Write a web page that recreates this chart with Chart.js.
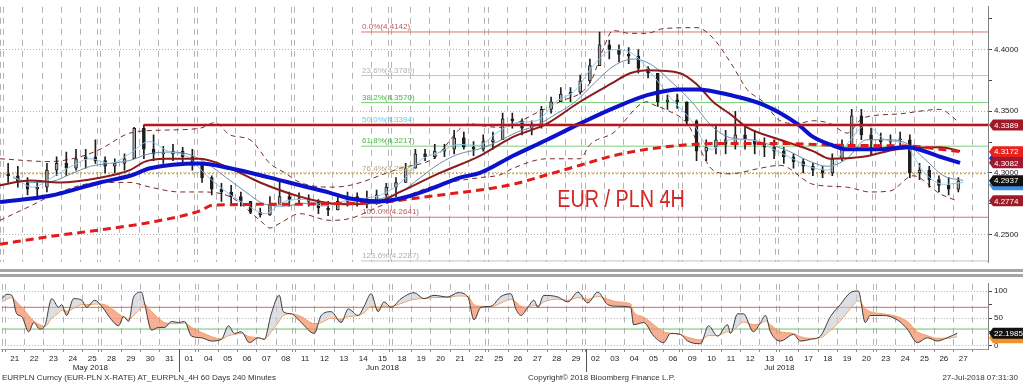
<!DOCTYPE html>
<html>
<head>
<meta charset="utf-8">
<title>EUR / PLN 4H</title>
<script src="https://cdn.jsdelivr.net/npm/chart.js@4.4.1/dist/chart.umd.min.js"></script>
<style>
  body { margin:0; background:#fff; font-family:"Liberation Sans", Arial, sans-serif; }
  #wrap { position:relative; width:1023px; height:384px; overflow:hidden; background:#fff; }
  #priceChart { position:absolute; left:0; top:0; }
  #rsiChart { position:absolute; left:0; top:277px; }
  .band { position:absolute; left:0; width:1023px; height:3px; background:#a4a4a4; }
  .foot { position:absolute; top:373px; font-size:8px; line-height:10px; color:#333; white-space:nowrap; }
</style>
</head>
<body>
<div id="wrap">
  <canvas id="priceChart" width="1023" height="269"></canvas>
  <div class="band" style="top:269px"></div>
  <div class="band" style="top:274px"></div>
  <canvas id="rsiChart" width="1023" height="97"></canvas>
  <div class="foot" style="left:2px">EURPLN Curncy (EUR-PLN X-RATE) AT_EURPLN_4H 60 Days 240 Minutes</div>
  <div class="foot" style="left:528px">Copyright© 2018 Bloomberg Finance L.P.</div>
  <div class="foot" style="right:5px">27-Jul-2018 07:31:30</div>
</div>
<script>
// trading days shown on the axis (one label per day, 21 May .. 27 Jul 2018)
const dayLabels = ['21','22','23','24','25','28','29','30','31','01','04','05','06','07','08','11','12','13','14','15',
  '18','19','20','21','22','25','26','27','28','29','02','03','04','05','06','09','10','11','12','13',
  '16','17','18','19','20','23','24','25','26','27'];
const weekendAfter = [-1, 4, 9, 14, 19, 24, 29, 34, 39, 44];
const monthNames = ['May 2018', 'Jun 2018', 'Jul 2018'];
const monthMid = [3.9, 19, 39.5];
const monthBreaks = [8.5, 29.5];

const XMIN = -0.67, XMAX = 50.28;
const PRICE_MIN = 4.2277, PRICE_MAX = 4.4346;
const priceTicks = [4.25, 4.275, 4.3, 4.325, 4.35, 4.375, 4.4, 4.425];
const rsiTicks = [0, 25, 50, 75, 100];

// half-day price bars (two per trading day)
const barHigh = [4.3077,4.3054, 4.2962,4.2939, 4.3077,4.3131, 4.3169,4.3192, 4.3192,4.3269,
  4.3131,4.3115, 4.3154,4.3370, 4.3389,4.3308, 4.3216,4.3231, 4.3208,4.3192,
  4.3077,4.2977, 4.2916,4.2900, 4.2846,4.2770, 4.2716,4.2808, 4.2939,4.2846,
  4.2839,4.2823, 4.2785,4.2770, 4.2823,4.2846, 4.2839,4.2854, 4.2862,4.2916,
  4.2962,4.3077, 4.3192,4.3192, 4.3231,4.3231, 4.3346,4.3331, 4.3254,4.3308,
  4.3331,4.3485, 4.3485,4.3439, 4.3423,4.3539, 4.3615,4.3692, 4.3692,4.3792,
  4.3923,4.4142, 4.4077,4.4038, 4.4015,4.4000, 4.3862,4.3808, 4.3631,4.3639,
  4.3577,4.3430, 4.3269,4.3385, 4.3346,4.3500, 4.3385,4.3346, 4.3285,4.3269,
  4.3208,4.3154, 4.3115,4.3077, 4.3054,4.3154, 4.3269,4.3515, 4.3515,4.3362,
  4.3323,4.3308, 4.3331,4.3308, 4.3077,4.3054, 4.2977,4.2962, 4.2962];
const barLow = [4.2923,4.2885, 4.2823,4.2808, 4.2846,4.2977, 4.2977,4.3023, 4.3038,4.3077,
  4.3000,4.3000, 4.3023,4.3115, 4.3115,4.3100, 4.3077,4.3100, 4.3077,4.3023,
  4.2923,4.2823, 4.2770,4.2746, 4.2731,4.2670, 4.2641,4.2655, 4.2746,4.2731,
  4.2746,4.2731, 4.2670,4.2654, 4.2700,4.2731, 4.2731,4.2716, 4.2746,4.2793,
  4.2808,4.2923, 4.3038,4.3100, 4.3115,4.3131, 4.3154,4.3192, 4.3139,4.3177,
  4.3192,4.3269, 4.3362,4.3308, 4.3308,4.3362, 4.3485,4.3577, 4.3577,4.3639,
  4.3731,4.3869, 4.3923,4.3900, 4.3885,4.3808, 4.3769,4.3539, 4.3515,4.3523,
  4.3385,4.3100, 4.3100,4.3154, 4.3154,4.3192, 4.3192,4.3154, 4.3131,4.3115,
  4.3077,4.3038, 4.3000,4.2977, 4.2962,4.2977, 4.3100,4.3231, 4.3269,4.3139,
  4.3192,4.3192, 4.3208,4.2962, 4.2946,4.2885, 4.2846,4.2823, 4.2846];
const barClose = [4.2977,4.2923, 4.2869,4.2885, 4.3023,4.3077, 4.3038,4.3115, 4.3131,4.3100,
  4.3054,4.3077, 4.3115,4.3362, 4.3192,4.3154, 4.3154,4.3177, 4.3131,4.3077,
  4.2962,4.2869, 4.2846,4.2808, 4.2770,4.2680, 4.2660,4.2746, 4.2808,4.2785,
  4.2793,4.2770, 4.2716,4.2700, 4.2770,4.2808, 4.2793,4.2770, 4.2823,4.2885,
  4.2923,4.3038, 4.3154,4.3131, 4.3177,4.3192, 4.3285,4.3208, 4.3192,4.3254,
  4.3269,4.3439, 4.3423,4.3362, 4.3385,4.3515, 4.3577,4.3639, 4.3654,4.3746,
  4.3869,4.4038, 4.4000,4.3961, 4.3946,4.3846, 4.3808,4.3577, 4.3592,4.3577,
  4.3423,4.3177, 4.3208,4.3269, 4.3231,4.3308, 4.3269,4.3231, 4.3208,4.3177,
  4.3131,4.3092, 4.3054,4.3023, 4.3000,4.3115, 4.3231,4.3462, 4.3308,4.3269,
  4.3254,4.3269, 4.3269,4.3000, 4.3023,4.2946, 4.2900,4.2869, 4.2937];
const firstOpen = 4.2990;

// daily thin averages (one value per trading day)
const fastAvg = [4.2977,4.2885,4.2962,4.3054,4.3115,4.3077,4.3154,4.3254,4.3177,4.3131,
  4.2977,4.2846,4.2746,4.2670,4.2770,4.2785,4.2731,4.2770,4.2793,4.2823,
  4.2923,4.3100,4.3169,4.3231,4.3223,4.3331,4.3408,4.3423,4.3577,4.3669,
  4.3885,4.4000,4.3961,4.3792,4.3592,4.3423,4.3192,4.3269,4.3269,4.3208,
  4.3131,4.3054,4.3023,4.3231,4.3385,4.3269,4.3231,4.3000,4.2908,4.2923];
const slowAvg = [4.2962,4.2923,4.2931,4.2993,4.3054,4.3077,4.3100,4.3154,4.3169,4.3154,
  4.3077,4.2962,4.2846,4.2746,4.2731,4.2754,4.2754,4.2754,4.2770,4.2793,
  4.2846,4.2962,4.3077,4.3154,4.3192,4.3254,4.3331,4.3385,4.3477,4.3577,
  4.3731,4.3869,4.3923,4.3869,4.3731,4.3577,4.3385,4.3285,4.3269,4.3231,
  4.3177,4.3100,4.3054,4.3115,4.3269,4.3269,4.3246,4.3115,4.2977,4.2939];

// slower averages and bands as [day, price]
const maBlue = [[-0.67,4.2765],[1.91,4.2815],[4.49,4.2923],[6.03,4.2977],[7.07,4.3038],[9.64,4.3077],
  [11.19,4.3038],[13.25,4.2962],[14.80,4.2900],[16.35,4.2839],[17.38,4.2793],[18.93,4.2770],
  [19.96,4.2793],[21.51,4.2869],[23.05,4.2962],[24.08,4.3000],[25.79,4.3139],[27.54,4.3269],
  [29.24,4.3400],[30.94,4.3523],[32.70,4.3631],[34.40,4.3677],[35.28,4.3677],[36.98,4.3631],
  [38.68,4.3554],[40.43,4.3400],[41.26,4.3292],[42.14,4.3231],[43.01,4.3192],[44.71,4.3192],
  [46.11,4.3208],[47.81,4.3131],[48.84,4.3082]];
const maMaroon = [[-0.67,4.2900],[0.88,4.2939],[2.42,4.2923],[4.49,4.2962],[6.03,4.3023],[6.81,4.3092],
  [7.84,4.3115],[9.64,4.3115],[11.19,4.3038],[12.74,4.2923],[14.80,4.2808],[16.35,4.2754],
  [17.38,4.2746],[18.93,4.2770],[19.96,4.2846],[22.02,4.3000],[24.08,4.3139],[25.79,4.3292],
  [27.54,4.3400],[29.24,4.3577],[30.94,4.3731],[31.82,4.3808],[32.70,4.3831],[34.40,4.3808],
  [35.28,4.3715],[36.10,4.3577],[36.98,4.3477],[37.85,4.3369],[39.56,4.3269],[41.26,4.3177],
  [42.14,4.3115],[43.84,4.3131],[45.59,4.3192],[47.81,4.3208],[48.84,4.3177]];
const maRedDash = [[-0.67,4.2423],[1.91,4.2485],[4.49,4.2539],[7.07,4.2600],[9.64,4.2693],[10.31,4.2739],
  [13.77,4.2746],[17.38,4.2754],[18.93,4.2762],[20.99,4.2800],[22.54,4.2831],[24.08,4.2862],
  [25.79,4.2908],[27.54,4.2985],[29.24,4.3062],[30.94,4.3139],[32.70,4.3192],[34.40,4.3223],
  [36.10,4.3239],[39.56,4.3239],[43.01,4.3223],[46.42,4.3216],[47.81,4.3192],[48.84,4.3172]];
const bandUpper = [[-0.67,4.3115],[1.91,4.3092],[3.46,4.3131],[4.49,4.3192],[6.03,4.3323],[7.58,4.3346],
  [9.64,4.3362],[10.42,4.3408],[11.19,4.3308],[12.22,4.3269],[13.25,4.3077],[14.03,4.3000],
  [14.80,4.2923],[16.35,4.2885],[17.38,4.2900],[19.96,4.3038],[21.66,4.3115],[23.57,4.3400],
  [24.08,4.3385],[25.12,4.3369],[27.18,4.3500],[28.21,4.3577],[29.76,4.3731],[30.43,4.4000],
  [30.94,4.4154],[31.82,4.4131],[32.70,4.4131],[33.52,4.4169],[35.28,4.4177],[36.10,4.4092],
  [37.13,4.3862],[37.85,4.3677],[38.68,4.3577],[39.56,4.3423],[40.43,4.3400],[41.26,4.3423],
  [42.14,4.3400],[43.01,4.3323],[43.84,4.3446],[45.59,4.3477],[47.81,4.3515],[48.69,4.3423]];
const bandLower = [[-0.67,4.2616],[0.88,4.2731],[2.42,4.2846],[4.49,4.2923],[6.03,4.2923],[7.07,4.2885],
  [8.61,4.2846],[9.64,4.2846],[11.19,4.2808],[12.74,4.2616],[13.25,4.2554],[13.77,4.2593],
  [14.80,4.2670],[16.35,4.2616],[17.38,4.2631],[18.93,4.2731],[19.96,4.2793],[21.51,4.2885],
  [23.05,4.2939],[24.08,4.2962],[25.12,4.2985],[25.79,4.3038],[27.54,4.3115],[29.24,4.3115],
  [29.76,4.3231],[30.94,4.3323],[32.70,4.3577],[33.01,4.3554],[33.52,4.3523],[34.76,4.3400],
  [36.10,4.3023],[36.98,4.2993],[38.53,4.3038],[39.56,4.3062],[41.26,4.2908],[43.01,4.2885],
  [44.20,4.2846],[45.23,4.2854],[46.42,4.2977],[47.81,4.2831],[48.69,4.2774]];

// resistance line and fibonacci retracement
const hLineLevel = 4.3389, hLineStart = 6.75;
const fibStart = 17.95;
const fibPct = ['0.0%','23.6%','38.2%','50.0%','61.8%','76.4%','100.0%','123.6%'];
const fibLevel = [4.4142, 4.3789, 4.3570, 4.3394, 4.3217, 4.2995, 4.2641, 4.2287];
const fibLine = ['#d07878','#c4c4c4','#7ad07a','#8ad4e4','#7ad07a','#e0b02a','#d07878','#c4c4c4'];
const fibText = ['#c05858','#b0b0b0','#4cb44c','#6cc8e0','#4cb44c','#b8a880','#c05858','#b0b0b0'];

// last-value tags on the right axis
const priceTagVals = [4.3120, 4.2905, 4.3389, 4.3172, 4.3082, 4.2937, 4.2774];
const priceTagColors = ['#1a2fd0', '#3b8ee0', '#9e1a26', '#e8221c', '#9e1a30', '#111111', '#9e1a26'];
const priceTagText = [false, false, true, true, true, true, true];

// RSI panel
const rsiTimes = [-0.67,-0.41,-0.15,0.10,0.36,0.72,0.98,1.29,1.55,1.91,
  2.27,2.42,2.68,3.04,3.46,3.71,4.13,4.49,5.00,5.36,
  5.62,5.88,6.14,6.55,6.70,7.07,7.43,7.74,8.10,8.46,
  8.77,9.13,9.64,10.16,10.68,11.04,11.35,11.71,12.12,12.58,
  12.89,13.25,13.67,13.87,14.29,14.80,15.47,15.83,16.35,16.86,
  17.23,17.74,18.05,18.41,18.77,19.08,19.44,19.96,20.63,21.14,
  21.66,22.38,22.90,23.41,23.72,24.08,24.60,25.12,25.63,25.89,
  26.15,26.51,26.82,27.03,27.33,28.06,28.57,29.09,29.60,30.12,
  30.63,31.15,31.82,31.97,32.49,33.01,33.52,33.88,34.40,34.76,
  35.43,35.84,36.31,36.82,36.98,37.34,37.65,38.16,38.53,38.78,
  39.04,39.56,40.23,40.59,41.10,41.62,42.14,42.65,43.17,43.58,
  43.94,44.20,44.87,45.59,46.11,46.63,47.14,47.66,48.17,48.69];
const rsiValues = [86,94,92,58,53,25,42,30,36,86,
  70,75,55,86,83,70,83,72,47,36,
  53,44,89,98,78,28,33,33,44,42,
  44,17,14,8,11,36,22,25,5,14,
  11,58,92,62,58,42,22,55,62,42,
  67,55,72,95,62,80,70,86,97,86,
  92,89,97,89,47,70,72,90,95,67,
  55,70,83,70,92,89,80,98,78,98,
  75,72,70,38,42,17,5,22,20,8,
  3,36,17,38,22,58,58,25,42,55,
  25,8,20,8,11,17,53,75,97,100,
  42,55,55,47,30,5,14,8,14,22.2];
const rsiSignal = [80,85,88,80,70,55,45,38,35,50,
  60,65,63,68,75,75,76,76,68,58,
  52,48,55,70,75,62,50,42,40,40,
  41,33,24,16,12,18,20,22,16,14,
  12,25,45,55,58,53,40,42,50,48,
  53,55,60,72,70,72,72,77,85,86,
  88,88,91,90,75,72,71,78,85,80,
  72,70,74,73,80,85,83,88,85,90,
  85,80,76,62,52,38,25,22,20,15,
  10,18,18,25,24,35,43,38,40,45,
  38,25,22,16,13,14,28,45,68,82,
  68,62,58,53,44,25,18,13,13,16];
const rsiHigh = 70, rsiLow = 30;
const rsiTagVals = [14, 22.2];
const rsiTagColors = ['#f0922a', '#111111'];
const rsiTagText = ['', '22.1985'];

Chart.defaults.font.family = '"Liberation Sans", Arial, sans-serif';
Chart.defaults.font.size = 8;
Chart.defaults.color = '#222';

// dashed day separators, doubled over weekends
const gridTicks = [];
for (let d = -1; d < dayLabels.length; d++) {
  if (weekendAfter.includes(d)) gridTicks.push(d + 0.34);
  gridTicks.push(d + 0.5);
}
const dayTicks = dayLabels.map((l, i) => i);

function slotTime(i) {
  return Math.floor(i / 2) + (i % 2 ? 0.25 : -0.25);
}
const barOpen = [firstOpen].concat(barClose.slice(0, -1));

function pairs(list) {
  return list.map(p => ({x: p[0], y: p[1]}));
}
function lineSet(data, color, width, extra) {
  return Object.assign({
    type: 'line', data: data, borderColor: color, borderWidth: width,
    pointRadius: 0, fill: false, tension: 0.4, cubicInterpolationMode: 'monotone'
  }, extra || {});
}
function isMajor(v, step) {
  return Math.abs(v / step - Math.round(v / step)) < 1e-6;
}

function drawTag(ctx, left, yPix, color, text) {
  ctx.fillStyle = color;
  ctx.beginPath();
  ctx.moveTo(left + 1, yPix);
  ctx.lineTo(left + 5, yPix - 5.5);
  ctx.lineTo(1023, yPix - 5.5);
  ctx.lineTo(1023, yPix + 5.5);
  ctx.lineTo(left + 5, yPix + 5.5);
  ctx.closePath();
  ctx.fill();
  if (text) {
    ctx.fillStyle = '#fff';
    ctx.font = '8px "Liberation Sans"';
    ctx.textAlign = 'left';
    ctx.textBaseline = 'middle';
    ctx.fillText(text, left + 6, yPix + 0.5);
  }
}

const mainDecor = {
  id: 'mainDecor',
  afterDatasetsDraw(chart) {
    const {ctx, scales: {x, y}} = chart;
    ctx.save();
    ctx.font = '8px "Liberation Sans"';
    ctx.textAlign = 'left';
    ctx.textBaseline = 'bottom';
    fibPct.forEach((p, i) => {
      ctx.fillStyle = fibText[i];
      ctx.fillText(p + '(' + fibLevel[i].toFixed(4) + ')', x.getPixelForValue(fibStart) + 1, y.getPixelForValue(fibLevel[i]) - 1);
    });
    // chart caption
    ctx.translate(x.getPixelForValue(31.36), y.getPixelForValue(4.2772));
    ctx.scale(0.86, 1);
    ctx.font = '23px "Liberation Sans"';
    ctx.fillStyle = '#d42424';
    ctx.textAlign = 'center';
    ctx.textBaseline = 'middle';
    ctx.fillText('EUR / PLN 4H', 0, 0);
    ctx.restore();
  },
  afterDraw(chart) {
    const {ctx, chartArea, scales: {y}} = chart;
    ctx.save();
    priceTagVals.forEach((v, i) => {
      drawTag(ctx, chartArea.right, y.getPixelForValue(v), priceTagColors[i], priceTagText[i] ? v.toFixed(4) : '');
    });
    ctx.restore();
  }
};

const rsiDecor = {
  id: 'rsiDecor',
  afterDraw(chart) {
    const {ctx, chartArea, scales: {x, y}} = chart;
    ctx.save();
    ctx.strokeStyle = '#555';
    ctx.lineWidth = 1;
    monthBreaks.forEach(t => {
      const px = Math.round(x.getPixelForValue(t)) + 0.5;
      ctx.beginPath();
      ctx.moveTo(px, chartArea.bottom);
      ctx.lineTo(px, chartArea.bottom + 23);
      ctx.stroke();
    });
    ctx.fillStyle = '#222';
    ctx.font = '8px "Liberation Sans"';
    ctx.textAlign = 'center';
    ctx.textBaseline = 'middle';
    monthNames.forEach((m, i) => {
      ctx.fillText(m, x.getPixelForValue(monthMid[i]), chartArea.bottom + 19);
    });
    rsiTagVals.forEach((v, i) => {
      drawTag(ctx, chartArea.right, y.getPixelForValue(v), rsiTagColors[i], rsiTagText[i]);
    });
    ctx.restore();
  }
};

// ---- price panel ----
const priceSets = [];
fibLevel.forEach((lv, i) => {
  const full = fibPct[i] === '76.4%';
  priceSets.push(lineSet([{x: full ? XMIN : fibStart, y: lv}, {x: XMAX, y: lv}], fibLine[i], full ? 1.5 : 1,
    {tension: 0, borderDash: full ? [2, 2] : [], order: 30}));
});
priceSets.push(lineSet(pairs(bandUpper), '#7a2c2c', 1, {borderDash: [5, 4], order: 20}));
priceSets.push(lineSet(pairs(bandLower), '#7a2c2c', 1, {borderDash: [5, 4], order: 20}));
priceSets.push({
  type: 'bar', data: barHigh.map((h, i) => ({x: slotTime(i), y: [barLow[i], h]})),
  backgroundColor: '#1e1e1e', barThickness: 1, grouped: false, order: 15
});
priceSets.push({
  type: 'bar', data: barClose.map((c, i) => ({x: slotTime(i), y: [barOpen[i], c]})),
  backgroundColor: ctx => barClose[ctx.dataIndex] >= barOpen[ctx.dataIndex] ? '#a8a8a8' : '#1e1e1e',
  borderColor: '#1e1e1e', borderWidth: 1, borderSkipped: false, minBarLength: 1,
  barThickness: 3, grouped: false, order: 14
});
priceSets.push(lineSet(slowAvg.map((v, d) => ({x: d, y: v})), '#6d8aa8', 1, {order: 8}));
priceSets.push(lineSet(fastAvg.map((v, d) => ({x: d, y: v})), '#8ec6ea', 1, {order: 7}));
priceSets.push(lineSet(pairs(maMaroon), '#8c1b1b', 2, {order: 5}));
priceSets.push(lineSet(pairs(maRedDash), '#e21a1a', 3, {borderDash: [8, 5], order: 4}));
priceSets.push(lineSet(pairs(maBlue), '#0c12cc', 4, {order: 3}));
priceSets.push(lineSet([{x: hLineStart, y: hLineLevel}, {x: XMAX, y: hLineLevel}], '#b8161e', 2.5, {tension: 0, order: 1}));

var priceChart = new Chart(document.getElementById('priceChart'), {
  type: 'bar',
  data: { datasets: priceSets },
  options: {
    responsive: false,
    animation: false,
    events: [],
    layout: { padding: 0, autoPadding: false },
    plugins: { legend: { display: false }, tooltip: { enabled: false } },
    scales: {
      x: {
        type: 'linear', min: XMIN, max: XMAX, offset: false,
        afterBuildTicks: s => { s.ticks = gridTicks.map(v => ({value: v})); },
        afterFit: s => { s.height = 0; },
        ticks: { display: false },
        grid: { offset: false, color: '#b4b4b4', drawTicks: false, lineWidth: 1 },
        border: { display: false, dash: [6, 5] }
      },
      y: {
        position: 'right', min: PRICE_MIN, max: PRICE_MAX,
        afterBuildTicks: s => { s.ticks = priceTicks.map(v => ({value: v})); },
        afterFit: s => { s.width = 35; },
        ticks: {
          padding: 2, color: '#222',
          callback: v => isMajor(v, 0.05) ? v.toFixed(4) : ''
        },
        grid: {
          color: c => isMajor(c.tick.value, 0.05) ? '#b0b0b0' : 'rgba(0,0,0,0)',
          tickColor: '#444', tickLength: 4
        },
        border: { color: '#808080', dash: [1, 2] }
      }
    }
  },
  plugins: [mainDecor]
});

// ---- RSI panel ----
const rsiSets = [
  lineSet(rsiTimes.map((t, i) => ({x: t, y: rsiSignal[i]})), '#f2a050', 1, {tension: 0, order: 3}),
  lineSet(rsiTimes.map((t, i) => ({x: t, y: rsiValues[i]})), '#3c3c3c', 1, {
    tension: 0, order: 2,
    fill: { target: 0, above: 'rgba(200,200,212,0.6)', below: 'rgba(245,140,100,0.7)' }
  }),
  lineSet([{x: XMIN, y: rsiHigh}, {x: XMAX, y: rsiHigh}], '#d06a6a', 1, {tension: 0, order: 10}),
  lineSet([{x: XMIN, y: rsiLow}, {x: XMAX, y: rsiLow}], '#6ac46a', 1, {tension: 0, order: 10})
];

var rsiChart = new Chart(document.getElementById('rsiChart'), {
  type: 'line',
  data: { datasets: rsiSets },
  options: {
    responsive: false,
    animation: false,
    events: [],
    layout: { padding: 0, autoPadding: false },
    plugins: { legend: { display: false }, tooltip: { enabled: false } },
    scales: {
      x: {
        type: 'linear', min: XMIN, max: XMAX,
        afterBuildTicks: s => { s.ticks = gridTicks.concat(dayTicks).sort((a, b) => a - b).map(v => ({value: v})); },
        afterFit: s => { s.height = 25; },
        ticks: {
          autoSkip: false, maxRotation: 0, minRotation: 0, padding: 2, color: '#222',
          callback: v => Number.isInteger(v) && v >= 0 && v < dayLabels.length ? dayLabels[v] : ''
        },
        grid: {
          color: c => Number.isInteger(c.tick.value) ? 'rgba(0,0,0,0)' : '#b4b4b4',
          tickColor: c => Number.isInteger(c.tick.value) ? 'rgba(0,0,0,0)' : '#888',
          tickLength: 3
        },
        border: { color: '#9a9a9a', dash: [6, 5] }
      },
      y: {
        position: 'right', min: -6.7, max: 113.3,
        afterBuildTicks: s => { s.ticks = rsiTicks.map(v => ({value: v})); },
        afterFit: s => { s.width = 35; },
        ticks: {
          padding: 2, color: '#222',
          callback: v => isMajor(v, 50) ? String(v) : ''
        },
        grid: {
          color: c => isMajor(c.tick.value, 50) ? '#b0b0b0' : 'rgba(0,0,0,0)',
          tickColor: '#444', tickLength: 4
        },
        border: { color: '#808080', dash: [1, 2] }
      }
    }
  },
  plugins: [rsiDecor]
});
</script>
</body>
</html>
